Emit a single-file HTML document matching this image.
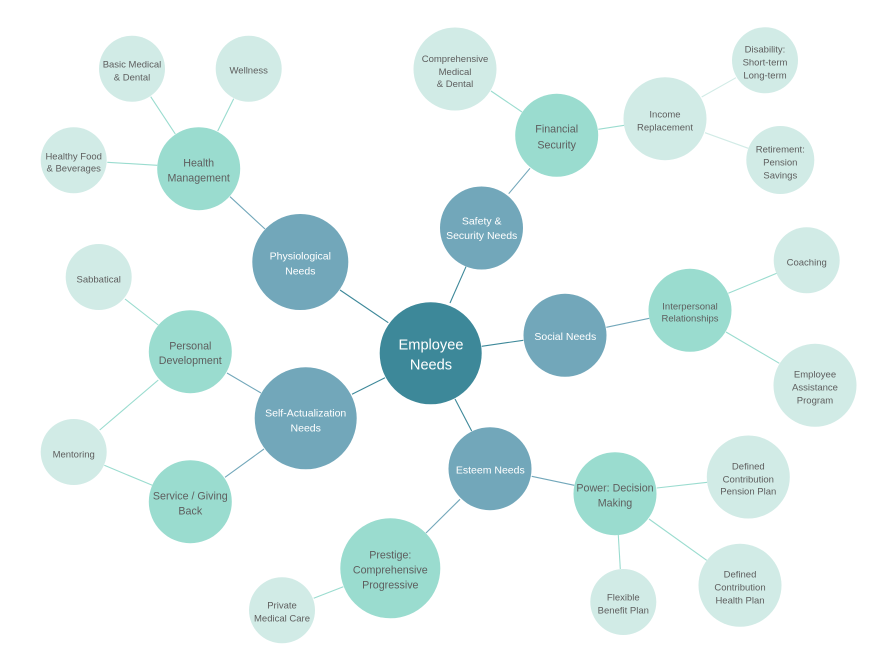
<!DOCTYPE html>
<html><head><meta charset="utf-8"><style>
html,body{margin:0;padding:0;background:#fff}
svg{display:block}
text{font-family:"Liberation Sans",sans-serif;text-anchor:middle}
.c{fill:#3d8899}.b{fill:#72a7ba}.t{fill:#9adccf}.l{fill:#d1ebe6}
.tc{fill:#fff;font-size:14.6px}
.tb{fill:#fff;font-size:10.5px}
.tt{fill:#5e5e5e;font-size:10.7px}
.tl{fill:#5e5e5e;font-size:9.5px}
line{stroke-width:1.1}
.l1 line{stroke:#3d8899}.l2 line{stroke:#72a7ba}.l3 line{stroke:#9adccf}.l4 line{stroke:#d1ebe6}
</style></head><body>
<svg width="886" height="665" viewBox="0 0 886 665" xmlns="http://www.w3.org/2000/svg">
<g class="l1">
<line x1="340" y1="290" x2="388.3" y2="322.7"/>
<line x1="352" y1="394.3" x2="385" y2="377.7"/>
<line x1="450" y1="303" x2="466" y2="266.7"/>
<line x1="481.7" y1="346.3" x2="523.3" y2="340.3"/>
<line x1="455" y1="399" x2="471.7" y2="431"/>
</g>
<g class="l2">
<line x1="230" y1="196.7" x2="265" y2="229"/>
<line x1="227" y1="373" x2="261" y2="393"/>
<line x1="225" y1="477.3" x2="264" y2="449"/>
<line x1="426" y1="533" x2="460" y2="499.3"/>
<line x1="508.7" y1="193.7" x2="530" y2="168.3"/>
<line x1="606.3" y1="327.3" x2="649.3" y2="318.3"/>
<line x1="531.7" y1="476.3" x2="574.3" y2="485.3"/>
</g>
<g class="l3">
<line x1="150.7" y1="96.7" x2="175.3" y2="134"/>
<line x1="233.7" y1="98.7" x2="217.7" y2="131"/>
<line x1="107.3" y1="162.3" x2="157.3" y2="165.3"/>
<line x1="125" y1="299" x2="158.3" y2="325"/>
<line x1="158.3" y1="380" x2="99.7" y2="430"/>
<line x1="104.3" y1="465.3" x2="152.3" y2="485.3"/>
<line x1="313.7" y1="598.3" x2="343.3" y2="586.7"/>
<line x1="491" y1="91" x2="522" y2="112"/>
<line x1="598.3" y1="129.3" x2="624.3" y2="125.3"/>
<line x1="728.3" y1="293.3" x2="776.7" y2="273.3"/>
<line x1="726" y1="332" x2="779.3" y2="363.3"/>
<line x1="656.7" y1="488" x2="707.3" y2="482.3"/>
<line x1="649" y1="519" x2="706.7" y2="560.3"/>
<line x1="618.3" y1="535" x2="620.3" y2="569"/>
</g>
<g class="l4">
<line x1="701.7" y1="97" x2="736" y2="77.7"/>
<line x1="705" y1="132.7" x2="748.3" y2="148.3"/>
</g>

<circle class="c" cx="430.7" cy="353.3" r="51"/>
<circle class="b" cx="300.3" cy="262" r="48"/>
<circle class="b" cx="305.7" cy="418.3" r="51"/>
<circle class="b" cx="481.5" cy="228" r="41.5"/>
<circle class="b" cx="565" cy="335.3" r="41.5"/>
<circle class="b" cx="490" cy="468.7" r="41.5"/>
<circle class="t" cx="198.7" cy="168.7" r="41.5"/>
<circle class="t" cx="190.3" cy="351.7" r="41.5"/>
<circle class="t" cx="190.3" cy="501.7" r="41.5"/>
<circle class="t" cx="390.3" cy="568.3" r="50"/>
<circle class="t" cx="556.7" cy="135.3" r="41.5"/>
<circle class="t" cx="690" cy="310.3" r="41.5"/>
<circle class="t" cx="615" cy="493.7" r="41.5"/>
<circle class="l" cx="132" cy="68.7" r="33"/>
<circle class="l" cx="248.7" cy="68.7" r="33"/>
<circle class="l" cx="73.7" cy="160.3" r="33"/>
<circle class="l" cx="98.7" cy="277" r="33"/>
<circle class="l" cx="73.7" cy="452" r="33"/>
<circle class="l" cx="282" cy="610.3" r="33"/>
<circle class="l" cx="455" cy="69" r="41.5"/>
<circle class="l" cx="665" cy="118.7" r="41.5"/>
<circle class="l" cx="765" cy="60.3" r="33"/>
<circle class="l" cx="780.3" cy="160" r="34"/>
<circle class="l" cx="806.7" cy="260.3" r="33"/>
<circle class="l" cx="815" cy="385.3" r="41.5"/>
<circle class="l" cx="748.3" cy="477" r="41.5"/>
<circle class="l" cx="740" cy="585.3" r="41.5"/>
<circle class="l" cx="623.3" cy="602" r="33"/>

<text class="tc" x="431" y="349.3">Employee</text>
<text class="tc" x="431" y="369.3">Needs</text>

<text class="tb" x="300.3" y="259.7">Physiological</text>
<text class="tb" x="300.3" y="274.3">Needs</text>
<text class="tb" x="305.7" y="416.7">Self-Actualization</text>
<text class="tb" x="305.7" y="431.3">Needs</text>
<text class="tb" x="481.7" y="224.3">Safety &amp;</text>
<text class="tb" x="481.7" y="239">Security Needs</text>
<text class="tb" x="565.3" y="340">Social Needs</text>
<text class="tb" x="490.3" y="473.3">Esteem Needs</text>

<text class="tt" x="198.7" y="166.7">Health</text>
<text class="tt" x="198.7" y="181.3">Management</text>
<text class="tt" x="190.3" y="349.3">Personal</text>
<text class="tt" x="190.3" y="364">Development</text>
<text class="tt" x="190.3" y="499.3">Service / Giving</text>
<text class="tt" x="190.3" y="514.3">Back</text>
<text class="tt" x="390.3" y="558.3">Prestige:</text>
<text class="tt" x="390.3" y="573.3">Comprehensive</text>
<text class="tt" x="390.3" y="588.3">Progressive</text>
<text class="tt" x="556.7" y="132.7">Financial</text>
<text class="tt" x="556.7" y="148.7">Security</text>
<text class="tl" x="690" y="309.3">Interpersonal</text>
<text class="tl" x="690" y="321.3">Relationships</text>
<text class="tt" x="615" y="491.3">Power: Decision</text>
<text class="tt" x="615" y="506.3">Making</text>

<text class="tl" x="132" y="67.3">Basic Medical</text>
<text class="tl" x="132" y="80.3">&amp; Dental</text>
<text class="tl" x="248.7" y="73.3">Wellness</text>
<text class="tl" x="73.7" y="159.3">Healthy Food</text>
<text class="tl" x="73.7" y="171.3">&amp; Beverages</text>
<text class="tl" x="98.7" y="282.3">Sabbatical</text>
<text class="tl" x="73.7" y="457.3">Mentoring</text>
<text class="tl" x="282" y="608.3">Private</text>
<text class="tl" x="282" y="621.3">Medical Care</text>
<text class="tl" x="455" y="62">Comprehensive</text>
<text class="tl" x="455" y="75">Medical</text>
<text class="tl" x="455" y="87">&amp; Dental</text>
<text class="tl" x="665" y="117.7">Income</text>
<text class="tl" x="665" y="130.7">Replacement</text>
<text class="tl" x="765" y="52.3">Disability:</text>
<text class="tl" x="765" y="65.3">Short-term</text>
<text class="tl" x="765" y="78.3">Long-term</text>
<text class="tl" x="780.3" y="152.3">Retirement:</text>
<text class="tl" x="780.3" y="165.3">Pension</text>
<text class="tl" x="780.3" y="178.3">Savings</text>
<text class="tl" x="806.7" y="265.3">Coaching</text>
<text class="tl" x="815" y="377.3">Employee</text>
<text class="tl" x="815" y="390.3">Assistance</text>
<text class="tl" x="815" y="403.3">Program</text>
<text class="tl" x="748.3" y="469.3">Defined</text>
<text class="tl" x="748.3" y="482.3">Contribution</text>
<text class="tl" x="748.3" y="494.7">Pension Plan</text>
<text class="tl" x="740" y="577.3">Defined</text>
<text class="tl" x="740" y="590.3">Contribution</text>
<text class="tl" x="740" y="603.3">Health Plan</text>
<text class="tl" x="623.3" y="600.3">Flexible</text>
<text class="tl" x="623.3" y="613.3">Benefit Plan</text>
</svg>
</body></html>
